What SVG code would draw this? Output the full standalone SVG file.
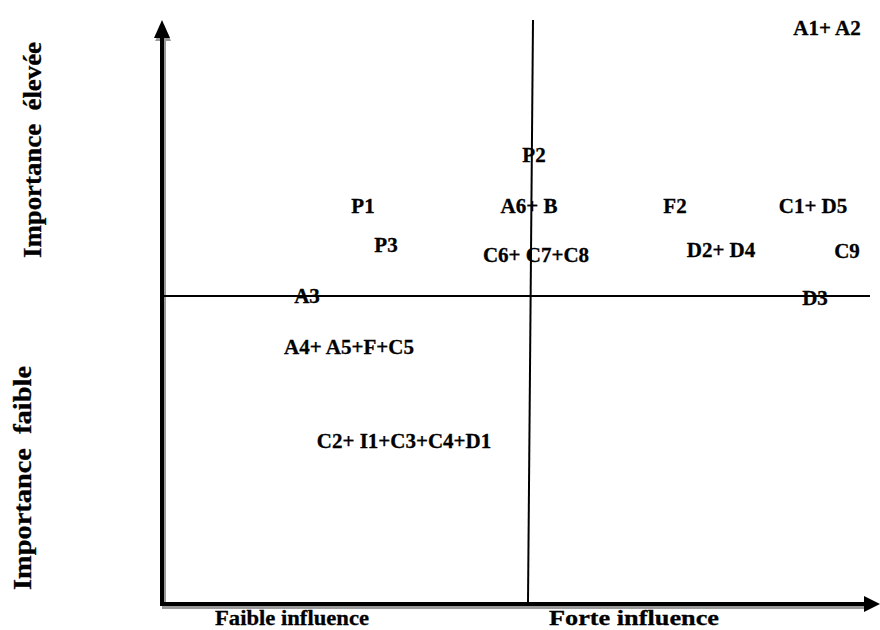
<svg xmlns="http://www.w3.org/2000/svg" width="880" height="630" viewBox="0 0 880 630">
  <defs>
    <style>
      .lbl { font-family: "Liberation Serif", "Times New Roman", serif; font-weight: bold; font-size: 21px; fill: #000; stroke: #000; stroke-width: 0.3; }
      .axl { font-family: "Liberation Serif", "Times New Roman", serif; font-weight: bold; font-size: 25px; fill: #000; stroke: #000; stroke-width: 0.3; }
      .axb { font-size: 22px; }
      .axis { stroke: #000; stroke-width: 4; fill: none; }
      .shadow { stroke: #9a9a9a; stroke-width: 4; fill: none; }
      .div { stroke: #000; stroke-width: 2; fill: none; }
    </style>
  </defs>
  <rect width="880" height="630" fill="#fff"/>

  <!-- axes with drop shadow -->
  <g id="axes">
    <polyline class="shadow" points="164,40 164,607 868,607"/>
    <polygon points="155,41 171,41 164,25" fill="#9a9a9a"/>
    <polyline class="axis" points="162,36 162,604 866,604"/>
    <polygon points="154,38 170,38 162,20" fill="#000"/>
    <polygon points="864,596 864,612 880,604" fill="#000"/>
  </g>

  <!-- quadrant dividers -->
  <g id="connectors">
    <line class="div" x1="533" y1="20" x2="528" y2="603"/>
    <line class="div" x1="162" y1="296" x2="870" y2="296"/>
  </g>

  <!-- axis titles -->
  <g id="axis-labels">
    <text class="axl axb" x="292" y="625" text-anchor="middle" textLength="154" lengthAdjust="spacingAndGlyphs">Faible influence</text>
    <text class="axl axb" x="634" y="625" text-anchor="middle" textLength="170" lengthAdjust="spacingAndGlyphs">Forte influence</text>
    <text class="axl" transform="translate(41,150) rotate(-90)" text-anchor="middle" textLength="216" lengthAdjust="spacingAndGlyphs" xml:space="preserve">Importance  élevée</text>
    <text class="axl" transform="translate(31,478) rotate(-90)" text-anchor="middle" textLength="224" lengthAdjust="spacingAndGlyphs" xml:space="preserve">Importance  faible</text>
  </g>

  <!-- plotted items -->
  <g id="A1A2"><text class="lbl" x="827" y="35" text-anchor="middle">A1+ A2</text></g>
  <g id="P2"><text class="lbl" x="534" y="162" text-anchor="middle">P2</text></g>
  <g id="P1"><text class="lbl" x="363" y="213" text-anchor="middle">P1</text></g>
  <g id="A6B"><text class="lbl" x="529" y="213" text-anchor="middle">A6+ B</text></g>
  <g id="F2"><text class="lbl" x="675" y="213" text-anchor="middle">F2</text></g>
  <g id="C1D5"><text class="lbl" x="813" y="213" text-anchor="middle">C1+ D5</text></g>
  <g id="P3"><text class="lbl" x="386" y="252" text-anchor="middle">P3</text></g>
  <g id="C6C7C8"><text class="lbl" x="536" y="262" text-anchor="middle">C6+ C7+C8</text></g>
  <g id="D2D4"><text class="lbl" x="721" y="257" text-anchor="middle">D2+ D4</text></g>
  <g id="C9"><text class="lbl" x="847" y="258" text-anchor="middle">C9</text></g>
  <g id="A3"><text class="lbl" x="307" y="303" text-anchor="middle">A3</text></g>
  <g id="D3"><text class="lbl" x="815" y="305" text-anchor="middle">D3</text></g>
  <g id="A4A5FC5"><text class="lbl" x="349" y="354" text-anchor="middle">A4+ A5+F+C5</text></g>
  <g id="C2I1C3C4D1"><text class="lbl" x="404" y="448" text-anchor="middle">C2+ I1+C3+C4+D1</text></g>
</svg>
